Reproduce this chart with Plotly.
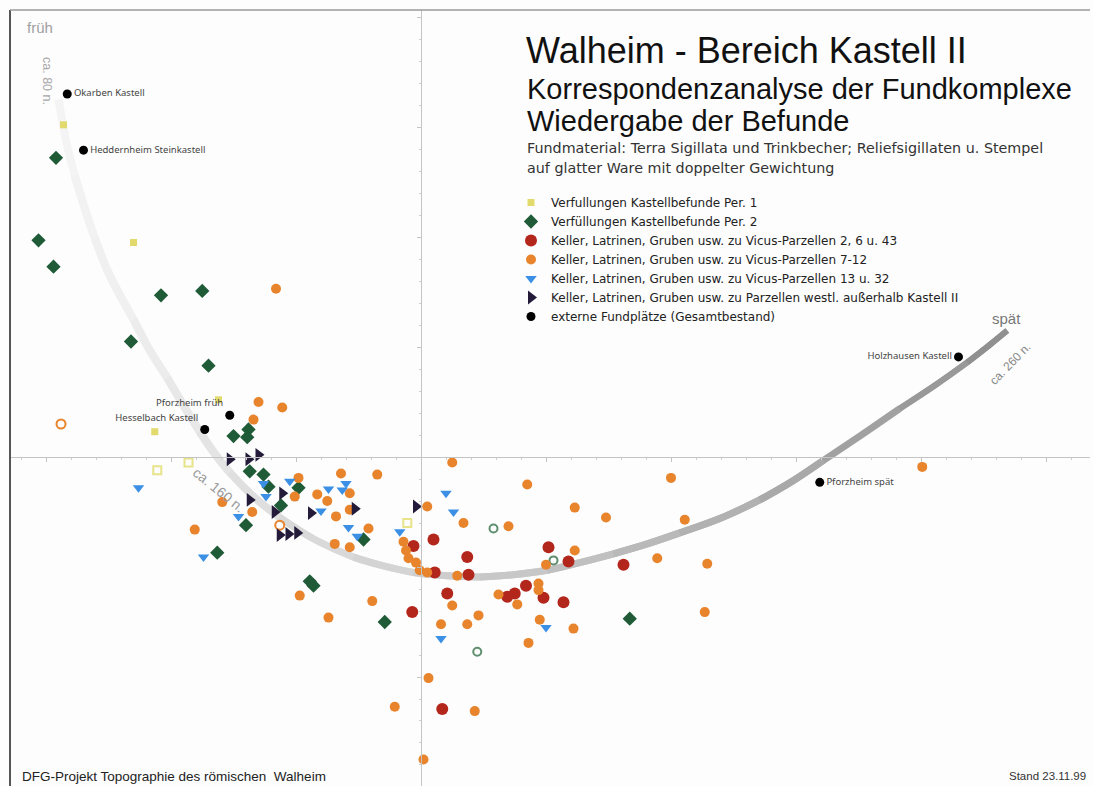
import plotly.graph_objects as go

# ---------------- data (correspondence analysis scores) ----------------
per1_x = [-2.86, -2.30, -1.62, -2.13]
per1_y = [3.02, 1.95, 0.52, 0.23]
per1_open_x = [-2.11, -1.86, -0.11]
per1_open_y = [-0.12, -0.05, -0.60]

per2_x = [-2.92, -3.06, -2.94, -2.08, -1.75, -2.32, -1.70, -1.50, -1.38, -1.39, -1.37, -1.26,
          -1.22, -0.98, -1.12, -1.40, -1.63, -0.89, -0.86, -0.29, -0.46, 1.67]
per2_y = [2.72, 1.97, 1.73, 1.47, 1.51, 1.05, 0.83, 0.19, 0.25, 0.18, -0.13, -0.16,
          -0.27, -0.28, -0.44, -0.62, -0.87, -1.13, -1.17, -1.50, -0.75, -1.47]
per2_open_x = [0.58, 1.06, 0.45]
per2_open_y = [-0.65, -0.94, -1.77]

vic_a_x = [-0.06, 0.10, 0.37, 0.11, 0.38, 0.21, -0.07, 1.02, 1.18, 1.62, 0.84, 0.75,
           0.69, 0.98, 1.14, 0.17]
vic_a_y = [-0.81, -0.75, -0.91, -1.05, -1.07, -1.24, -1.41, -0.82, -0.95, -0.98, -1.17, -1.24,
           -1.27, -1.28, -1.32, -2.29]

vic_b_x = [-1.16, -1.30, -1.11, -1.34, -0.98, -0.64, -0.35, -0.83, -0.75, -1.01, -0.57, -1.59,
           -1.35, -0.68, -0.57, -1.81, -0.42, -0.69, -0.57, -0.97, -0.39, -0.74, 0.25, 0.85,
           0.05, 0.34, 0.70, 1.23, 1.48, 2.00, 2.11, 1.23, 1.00, 1.89, 2.29, 0.94, 0.94,
           0.62, 0.77, 0.25, 0.46, 0.16, 0.37, 0.95, 1.22, 0.86, 2.27, 0.29, -0.14, -0.12,
           -0.10, -0.04, -0.01, 0.05, 0.06, -0.21, 0.43, 0.02, 4.01]
vic_b_y = [1.53, 0.50, 0.45, 0.34, -0.19, -0.15, -0.16, -0.34, -0.40, -0.36, -0.33, -0.41,
           -0.50, -0.54, -0.48, -0.66, -0.65, -0.79, -0.82, -1.26, -1.31, -1.46, -0.05, -0.25,
           -0.45, -0.60, -0.63, -0.46, -0.55, -0.19, -0.57, -0.85, -0.98, -0.92, -0.97, -1.15, -1.21,
           -1.25, -1.34, -1.35, -1.44, -1.52, -1.52, -1.48, -1.56, -1.69, -1.41, -1.08, -0.77, -0.85,
           -0.92, -0.96, -1.03, -1.05, -2.01, -2.27, -2.31, -2.75, -0.09]
vic_b_open_x = [-2.88, -1.13]
vic_b_open_y = [0.30, -0.62]

vic_c_x = [-2.26, -1.74, -1.05, -0.74, -0.63, -0.60, -1.26, -1.24, -1.46, -0.80, -0.58, -0.51,
           -0.17, 0.20, 0.26, 0.16, 1.00]
vic_c_y = [-0.28, -0.91, -0.22, -0.29, -0.30, -0.24, -0.24, -0.36, -0.54, -0.49, -0.64, -0.72,
           -0.68, -0.33, -0.50, -1.65, -1.55]

west_x = [-1.53, -1.38, -1.30, -1.37, -1.11, -1.17, -0.88, -0.53, -1.13, -1.06, -0.99, -0.04]
west_y = [-0.02, -0.02, 0.02, -0.39, -0.33, -0.50, -0.51, -0.47, -0.71, -0.70, -0.69, -0.45]

ext_names = ["Okarben Kastell", "Heddernheim Steinkastell", "Pforzheim früh",
             "Hesselbach Kastell", "Holzhausen Kastell", "Pforzheim spät"]
ext_x = [-2.83, -2.70, -1.53, -1.73, 4.30, 3.19]
ext_y = [3.30, 2.79, 0.38, 0.25, 0.91, -0.23]
ext_textpos = ["middle right", "middle right", "top left", "top left", "middle left", "middle right"]

# chronological arch (from früh to spät)
arch_x = [-2.90, -2.84, -2.77, -2.69, -2.61, -2.49, -2.30, -2.17, -2.03, -1.89, -1.77, -1.65,
          -1.53, -1.33, -1.13, -0.85, -0.54, -0.30, -0.06, 0.21, 0.47, 0.74, 1.01, 1.27,
          1.54, 1.81, 2.07, 2.39, 2.71, 2.97, 3.22, 3.51, 3.83, 4.11, 4.37, 4.55, 4.69]
arch_y = [3.25, 2.88, 2.56, 2.26, 1.99, 1.65, 1.25, 0.97, 0.72, 0.45, 0.23, 0.03,
          -0.14, -0.37, -0.55, -0.75, -0.91, -0.99, -1.05, -1.08, -1.09, -1.07, -1.03, -0.96,
          -0.88, -0.79, -0.69, -0.56, -0.39, -0.22, -0.03, 0.19, 0.44, 0.65, 0.86, 1.02, 1.15]

legend_names = [
    "Verfullungen Kastellbefunde Per. 1",
    "Verfüllungen Kastellbefunde Per. 2",
    "Keller, Latrinen, Gruben usw. zu Vicus-Parzellen 2, 6 u. 43",
    "Keller, Latrinen, Gruben usw. zu Vicus-Parzellen 7-12",
    "Keller, Latrinen, Gruben usw. zu Vicus-Parzellen 13 u. 32",
    "Keller, Latrinen, Gruben usw. zu Parzellen westl. außerhalb Kastell II",
    "externe Fundplätze (Gesamtbestand)",
]

X_RANGE = [-3.288, 5.352]
Y_RANGE = [-2.991, 4.064]

# ---------------- figure ----------------
W, H = 1093, 786
ML, MR, MT, MB = 10, 3, 10, 0
PW, PH = W - ML - MR, H - MT - MB


def paper_x(px):
    return (px - ML) / PW


def paper_y(py):
    return (H - MB - py) / PH


YELLOW = "#e2da6c"
GREEN = "#1f5b37"
RED = "#b3261b"
ORANGE = "#e8842c"
BLUE = "#3b8fe4"
NAVY = "#231b39"

fig = go.Figure()

# arch drawn in overlapping smooth pieces with a grey gradient (light at früh, darker at spät)
n = len(arch_x)
for i in range(0, n - 1, 2):
    xs, ys = arch_x[i:i + 5], arch_y[i:i + 5]
    t = i / (n - 1)
    g = int(244 - (244 - 136) * (t ** 1.5))
    w = 8 if t < 0.3 else (7 if t < 0.8 else 6)
    fig.add_trace(go.Scatter(
        x=xs, y=ys, mode="lines",
        line=dict(color=f"rgb({g},{g},{g})", width=w, shape="spline", smoothing=1),
        hoverinfo="skip", showlegend=False))

font_leg = "DejaVu Sans"

fig.add_trace(go.Scatter(x=per1_x, y=per1_y, mode="markers", name=legend_names[0],
                         marker=dict(symbol="square", size=7, color=YELLOW)))
fig.add_trace(go.Scatter(x=per1_open_x, y=per1_open_y, mode="markers", showlegend=False,
                         marker=dict(symbol="square-open", size=8, color="#e8e48a",
                                     line=dict(width=2))))
fig.add_trace(go.Scatter(x=per2_x, y=per2_y, mode="markers", name=legend_names[1],
                         marker=dict(symbol="diamond", size=11, color=GREEN)))
fig.add_trace(go.Scatter(x=per2_open_x, y=per2_open_y, mode="markers", showlegend=False,
                         marker=dict(symbol="circle-open", size=8, color="#5f8f6f",
                                     line=dict(width=2))))
fig.add_trace(go.Scatter(x=vic_a_x, y=vic_a_y, mode="markers", name=legend_names[2],
                         marker=dict(symbol="circle", size=12, color=RED)))
fig.add_trace(go.Scatter(x=vic_b_x, y=vic_b_y, mode="markers", name=legend_names[3],
                         marker=dict(symbol="circle", size=10, color=ORANGE)))
fig.add_trace(go.Scatter(x=vic_b_open_x, y=vic_b_open_y, mode="markers", showlegend=False,
                         marker=dict(symbol="circle-open", size=9, color=ORANGE,
                                     line=dict(width=2))))
fig.add_trace(go.Scatter(x=vic_c_x, y=vic_c_y, mode="markers", name=legend_names[4],
                         marker=dict(symbol="triangle-down", size=10, color=BLUE)))
fig.add_trace(go.Scatter(x=west_x, y=west_y, mode="markers", name=legend_names[5],
                         marker=dict(symbol="triangle-right", size=12, color=NAVY)))
fig.add_trace(go.Scatter(x=ext_x, y=ext_y, mode="markers+text", name=legend_names[6],
                         text=ext_names, textposition=ext_textpos,
                         textfont=dict(family="Noto Sans", size=9.5, color="#444"),
                         marker=dict(symbol="circle", size=9, color="#000")))

ann = []


def add_text(x, y, text, size, color, family="Liberation Sans", angle=0, xanchor="left"):
    ann.append(dict(x=x, y=y, xref="paper", yref="paper", text=text, showarrow=False,
                    xanchor=xanchor, yanchor="middle", textangle=angle,
                    font=dict(family=family, size=size, color=color)))


add_text(paper_x(524), paper_y(50), "Walheim - Bereich Kastell II", 36, "#111")
add_text(paper_x(525), paper_y(89), "Korrespondenzanalyse der Fundkomplexe", 29, "#111")
add_text(paper_x(525), paper_y(121), "Wiedergabe der Befunde", 29, "#111")
add_text(paper_x(525), paper_y(148),
         "Fundmaterial: Terra Sigillata und Trinkbecher; Reliefsigillaten u. Stempel",
         14.3, "#333", family=font_leg)
add_text(paper_x(525), paper_y(168), "auf glatter Ware mit doppelter Gewichtung",
         14.3, "#333", family=font_leg)

add_text(paper_x(25), paper_y(27), "früh", 15, "#a0a0a0")
add_text(paper_x(47), paper_y(81), "ca. 80 n.", 12.5, "#a8a8a8", angle=90, xanchor="center")
add_text(paper_x(219), paper_y(490), "ca. 160 n.", 14, "#9a9a9a", angle=39, xanchor="center")
add_text(paper_x(990), paper_y(318), "spät", 15, "#777")
add_text(paper_x(1010), paper_y(364), "ca. 260 n.", 12, "#888", angle=-46, xanchor="center")

add_text(paper_x(20), paper_y(776), "DFG-Projekt Topographie des römischen  Walheim", 13.5, "#222")
add_text(paper_x(1088), paper_y(776), "Stand 23.11.99", 11.5, "#333", xanchor="right")

xpos = (0 - Y_RANGE[0]) / (Y_RANGE[1] - Y_RANGE[0])
ypos = (0 - X_RANGE[0]) / (X_RANGE[1] - X_RANGE[0])

fig.update_layout(
    width=W, height=H,
    margin=dict(l=ML, r=MR, t=MT, b=MB, pad=0),
    paper_bgcolor="#fdfdfd", plot_bgcolor="#fdfdfd",
    annotations=ann,
    showlegend=True,
    legend=dict(x=paper_x(511), y=paper_y(188), xanchor="left", yanchor="top",
                bgcolor="rgba(0,0,0,0)", font=dict(family=font_leg, size=12, color="#222"),
                tracegroupgap=0, itemsizing="trace", itemwidth=30),
    xaxis=dict(range=X_RANGE, showgrid=False, zeroline=False, showline=True,
               linecolor="#c4c4c4", linewidth=1, anchor="free", position=xpos,
               ticks="outside", ticklen=4, tickcolor="#c4c4c4", tick0=0, dtick=1,
               minor=dict(dtick=0.2, ticks="outside", ticklen=2, tickcolor="#cfcfcf"),
               showticklabels=False, fixedrange=True),
    yaxis=dict(range=Y_RANGE, showgrid=False, zeroline=False, showline=True,
               linecolor="#c4c4c4", linewidth=1, anchor="free", position=ypos,
               ticks="outside", ticklen=4, tickcolor="#c4c4c4", tick0=0, dtick=1,
               minor=dict(dtick=0.2, ticks="outside", ticklen=2, tickcolor="#cfcfcf"),
               showticklabels=False, fixedrange=True),
    shapes=[
        dict(type="line", xref="paper", yref="paper", x0=0, x1=0, y0=0, y1=1,
             line=dict(color="#555", width=2)),
        dict(type="line", xref="paper", yref="paper", x0=0, x1=1, y0=1, y1=1,
             line=dict(color="#9a9a9a", width=1.5)),
    ],
)

fig.write_html("out.html", config={"displayModeBar": False},
               post_script="document.body.style.margin='0px';")
